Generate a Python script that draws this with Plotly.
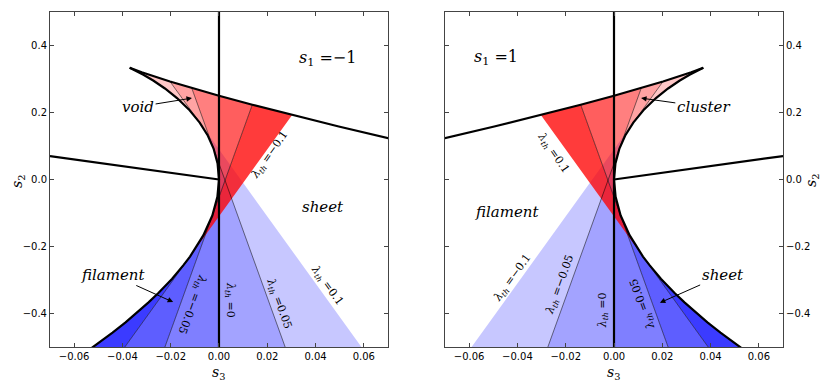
import plotly.graph_objects as go

# lower/upper part of the cusp curve (s3, s2), from bottom edge up to the cusp
CURVE_S3 = [-0.0560, -0.0498, -0.0441, -0.0387, -0.0338, -0.0293, -0.0251, -0.0195,
            -0.0148, -0.0120, -0.0065, -0.00275, -0.00066, 0.0, -0.00059, -0.00225,
            -0.00478, -0.0080, -0.0125, -0.0174, -0.0224, -0.0271, -0.0313, -0.0353,
            -0.0365, -0.0370]
CURVE_S2 = [-0.5200, -0.4883, -0.4572, -0.4267, -0.3968, -0.3675, -0.3388, -0.2969,
            -0.2563, -0.2300, -0.1669, -0.1075, -0.0519, 0.0, 0.0481, 0.0925,
            0.1331, 0.1700, 0.2093, 0.2432, 0.2717, 0.2948, 0.3125, 0.3277,
            0.3317, 0.3333]
# second branch, from the cusp out to the right edge
BRANCH_S3 = [-0.0370, -0.0363, -0.0320, -0.0203, -0.0113, 0.0, 0.0138, 0.0303, 0.0496, 0.0720]
BRANCH_S2 = [0.3333, 0.3312, 0.3200, 0.2925, 0.2731, 0.2500, 0.2231, 0.1925, 0.1581, 0.1200]

LAMBDA_TH = [0.1, 0.05, 0.0, -0.05, -0.1]
TOUCH_IDX = [17, 15, 13, 11, 9]   # where each threshold line touches CURVE
CROSS_IDX = [3, 4, 5, 6, 7]       # where it meets BRANCH
FOOT_S2 = -0.52
FOOT_S3 = [0.061, 0.0284, 0.0, -0.0234, -0.041]
SHADE_ALPHA = [0.22, 0.36, 0.50, 0.63, 0.77]

EDGE_S3 = [-0.07, 0.0]
EDGE_S2 = [0.07, 0.0]
ZERO_S3 = [0.0, 0.0]
ZERO_S2 = [-0.5, 0.5]

X_TICKS = [-0.06, -0.04, -0.02, 0.0, 0.02, 0.04, 0.06]
X_TICK_TEXT = ["−0.06", "−0.04", "−0.02", "0.00", "0.02", "0.04", "0.06"]
Y_TICKS = [-0.4, -0.2, 0.0, 0.2, 0.4]
Y_TICK_TEXT = ["−0.4", "−0.2", "0.0", "0.2", "0.4"]

# word labels per panel: (text, s3, s2, arrow head s3, arrow head s2)
LEFT_WORDS = [("void", -0.0335, 0.217, -0.0112, 0.243),
              ("filament", -0.0439, -0.285, -0.019, -0.366),
              ("sheet", 0.043, -0.083, None, None)]
RIGHT_WORDS = [("cluster", 0.037, 0.217, 0.0112, 0.243),
               ("sheet", 0.045, -0.285, 0.019, -0.368),
               ("filament", -0.044, -0.097, None, None)]
PANEL_TAGS = [("<i>s</i><sub>1</sub> =−1", 0.045, 0.362), ("<i>s</i><sub>1</sub> =1", -0.049, 0.364)]
# threshold label positions, one per LAMBDA_TH line, for each panel
TH_LABEL_S3 = [[0.0446, 0.0246, 0.0046, -0.0113, 0.021],
               [-0.042, -0.0224, -0.0045, 0.012, -0.0252]]
TH_LABEL_S2 = [[-0.315, -0.37, -0.36, -0.37, 0.073],
               [-0.295, -0.315, -0.39, -0.37, 0.079]]
TH_LABEL_ANGLE = [[54, 70, 90, 110, -55],
                  [-54, -70, -90, -110, 55]]

SERIF = "DejaVu Serif"
SANS = "DejaVu Sans"


def fmt(v):
    if v == 0:
        return "0"
    return ("−" if v < 0 else "") + ("%g" % abs(v))


def add_panel(fig, k, sign):
    xa, ya = ("x", "y") if k == 0 else ("x2", "y2")
    xr = "x" if k == 0 else "x2"
    yr = "y" if k == 0 else "y2"

    def mx(vals):
        return [sign * v for v in vals]

    # blue bands, outer (lightest) to inner (darkest)
    for i in range(len(LAMBDA_TH)):
        if i == len(LAMBDA_TH) - 1:
            s3 = [FOOT_S3[i]] + CURVE_S3[0:TOUCH_IDX[i] + 1]
            s2 = [FOOT_S2] + CURVE_S2[0:TOUCH_IDX[i] + 1]
        else:
            s3 = CURVE_S3[TOUCH_IDX[i + 1]:TOUCH_IDX[i] + 1] + [FOOT_S3[i], FOOT_S3[i + 1]]
            s2 = CURVE_S2[TOUCH_IDX[i + 1]:TOUCH_IDX[i] + 1] + [FOOT_S2, FOOT_S2]
        fig.add_trace(go.Scatter(x=mx(s3), y=s2, xaxis=xa, yaxis=ya, mode="lines",
                                 fill="toself", fillcolor="rgba(0,0,255,%.2f)" % SHADE_ALPHA[i],
                                 line=dict(width=0), hoverinfo="skip"))

    # red bands, inner (lightest, next to the cusp) to outer (darkest)
    for i in range(len(LAMBDA_TH)):
        if i == 0:
            s3 = BRANCH_S3[0:CROSS_IDX[0] + 1] + CURVE_S3[TOUCH_IDX[0]:]
            s2 = BRANCH_S2[0:CROSS_IDX[0] + 1] + CURVE_S2[TOUCH_IDX[0]:]
        else:
            s3 = BRANCH_S3[CROSS_IDX[i - 1]:CROSS_IDX[i] + 1] + CURVE_S3[TOUCH_IDX[i]:TOUCH_IDX[i - 1] + 1]
            s2 = BRANCH_S2[CROSS_IDX[i - 1]:CROSS_IDX[i] + 1] + CURVE_S2[TOUCH_IDX[i]:TOUCH_IDX[i - 1] + 1]
        fig.add_trace(go.Scatter(x=mx(s3), y=s2, xaxis=xa, yaxis=ya, mode="lines",
                                 fill="toself", fillcolor="rgba(255,0,0,%.2f)" % SHADE_ALPHA[i],
                                 line=dict(width=0), hoverinfo="skip"))

    # thin separators between bands
    tx, ty = [], []
    for i in (0, 1, 3):
        tx += [BRANCH_S3[CROSS_IDX[i]], CURVE_S3[TOUCH_IDX[i]], None]
        ty += [BRANCH_S2[CROSS_IDX[i]], CURVE_S2[TOUCH_IDX[i]], None]
    for i in (1, 3, 4):
        tx += [CURVE_S3[TOUCH_IDX[i]], FOOT_S3[i], None]
        ty += [CURVE_S2[TOUCH_IDX[i]], FOOT_S2, None]
    fig.add_trace(go.Scatter(x=[None if v is None else sign * v for v in tx], y=ty,
                             xaxis=xa, yaxis=ya, mode="lines",
                             line=dict(color="rgba(0,0,0,0.65)", width=0.8), hoverinfo="skip"))

    # thick black boundaries
    for s3, s2 in ((CURVE_S3, CURVE_S2), (BRANCH_S3, BRANCH_S2),
                   (EDGE_S3, EDGE_S2), (ZERO_S3, ZERO_S2)):
        fig.add_trace(go.Scatter(x=mx(s3), y=s2, xaxis=xa, yaxis=ya, mode="lines",
                                 line=dict(color="black", width=2.2), hoverinfo="skip"))

    words = LEFT_WORDS if k == 0 else RIGHT_WORDS
    for text, s3, s2, hx, hy in words:
        if hx is None:
            fig.add_annotation(x=s3, y=s2, xref=xr, yref=yr, text="<i>%s</i>" % text,
                               showarrow=False, font=dict(family=SERIF, size=15, color="black"))
        else:
            fig.add_annotation(x=hx, y=hy, ax=s3, ay=s2, xref=xr, yref=yr, axref=xr, ayref=yr,
                               text="<i>%s</i>" % text, showarrow=True, arrowhead=2,
                               arrowsize=1.1, arrowwidth=1, arrowcolor="black",
                               font=dict(family=SERIF, size=15, color="black"))
    tag, s3, s2 = PANEL_TAGS[k]
    fig.add_annotation(x=s3, y=s2, xref=xr, yref=yr, text=tag, showarrow=False,
                       font=dict(family=SERIF, size=16, color="black"))

    for j, mu in enumerate(LAMBDA_TH):
        lab = "<i>λ<sub>th</sub></i> =%s" % fmt(sign * mu)
        fig.add_annotation(x=TH_LABEL_S3[k][j], y=TH_LABEL_S2[k][j], xref=xr, yref=yr,
                           text=lab, showarrow=False, textangle=TH_LABEL_ANGLE[k][j],
                           font=dict(family=SERIF, size=11, color="black"))


fig = go.Figure()
add_panel(fig, 0, 1)
add_panel(fig, 1, -1)

axis_style = dict(showgrid=False, zeroline=False, showline=True, linecolor="#444444",
                  linewidth=1, mirror="allticks", ticks="inside", ticklen=4,
                  tickcolor="#444444", tickfont=dict(family=SANS, size=10, color="black"))
# the page body adds an 8px offset, so the margins are shifted by that much
fig.update_layout(
    width=830, height=383,
    margin=dict(l=42, r=55, t=4, b=44),
    plot_bgcolor="white", paper_bgcolor="white",
    showlegend=False,
    xaxis=dict(domain=[0, 0.4611], range=[-0.07, 0.07], tickvals=X_TICKS,
               ticktext=X_TICK_TEXT, anchor="y", **axis_style),
    yaxis=dict(domain=[0, 1], range=[-0.5, 0.5], tickvals=Y_TICKS,
               ticktext=Y_TICK_TEXT, anchor="x", **axis_style),
    xaxis2=dict(domain=[0.5389, 1], range=[-0.07, 0.07], tickvals=X_TICKS,
                ticktext=X_TICK_TEXT, anchor="y2", **axis_style),
    yaxis2=dict(domain=[0, 1], range=[-0.5, 0.5], tickvals=Y_TICKS,
                ticktext=Y_TICK_TEXT, anchor="x2", side="right", **axis_style),
)

# axis titles
for xp, yp, txt, ang in ((-0.0437, 0.4955, "<i>s</i><sub>2</sub>", -90),
                         (1.0396, 0.4955, "<i>s</i><sub>2</sub>", -90),
                         (0.2292, -0.078, "<i>s</i><sub>3</sub>", 0),
                         (0.7694, -0.078, "<i>s</i><sub>3</sub>", 0)):
    fig.add_annotation(x=xp, y=yp, xref="paper", yref="paper", text=txt, showarrow=False,
                       xanchor="center", yanchor="middle", textangle=ang,
                       font=dict(family=SERIF, size=14, color="black"))

fig.write_html("out.html")
